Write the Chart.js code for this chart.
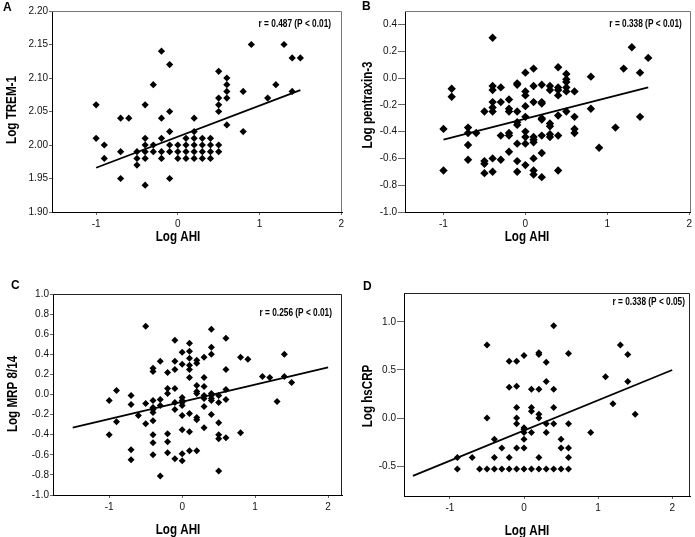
<!DOCTYPE html>
<html>
<head>
<meta charset="utf-8">
<script src="https://cdn.jsdelivr.net/npm/chart.js@4.4.1/dist/chart.umd.min.js"></script>
<style>
  html, body { margin: 0; padding: 0; background: #fff; }
  #figure { position: relative; width: 695px; height: 537px; overflow: hidden; background: #fff; }
  #figure canvas { position: absolute; }
  .letter { position: absolute; font: bold 12px 'Liberation Sans', Arial, sans-serif; line-height: 12px; color: #000; }
</style>
</head>
<body>
<div id="figure">
  <canvas id="chartA" width="347" height="268" style="left:0px;top:0px"></canvas>
  <canvas id="chartB" width="348" height="268" style="left:347px;top:0px"></canvas>
  <canvas id="chartC" width="347" height="275" style="left:0px;top:268px"></canvas>
  <canvas id="chartD" width="348" height="275" style="left:347px;top:268px"></canvas>
  <div class="letter" style="left:3px;top:1px">A</div>
  <div class="letter" style="left:362px;top:0px">B</div>
  <div class="letter" style="left:11px;top:279px">C</div>
  <div class="letter" style="left:363px;top:280px">D</div>
</div>
<script>
// --- Data (x = Log AHI) ---
const ahiTicks = [-1, 0, 1, 2];

// A: Log TREM-1
const tremTicks = [1.90, 1.95, 2.00, 2.05, 2.10, 2.15, 2.20];
const tremPoints = [
  [-1.0, 2.06], [-1.0, 2.01], [-0.9, 2.00], [-0.9, 1.98], [-0.7, 2.04], [-0.7, 1.99], [-0.7, 1.95], [-0.6, 2.04],
  [-0.5, 1.99], [-0.5, 1.98], [-0.5, 1.97],
  [-0.4, 2.06], [-0.4, 2.01], [-0.4, 2.00], [-0.4, 1.99], [-0.4, 1.98], [-0.4, 1.94],
  [-0.3, 2.09], [-0.3, 2.00], [-0.3, 1.99],
  [-0.2, 2.14], [-0.2, 2.04], [-0.2, 2.01], [-0.2, 1.99], [-0.2, 1.98],
  [-0.1, 2.12], [-0.1, 2.05], [-0.1, 2.02], [-0.1, 2.00], [-0.1, 1.99], [-0.1, 1.95],
  [0.0, 2.00], [0.0, 1.99], [0.0, 1.98],
  [0.1, 2.01], [0.1, 2.00], [0.1, 1.99], [0.1, 1.98],
  [0.2, 2.04], [0.2, 2.02], [0.2, 2.01], [0.2, 2.00], [0.2, 1.99], [0.2, 1.98],
  [0.3, 2.01], [0.3, 2.00], [0.3, 1.99], [0.3, 1.98],
  [0.4, 2.01], [0.4, 2.00], [0.4, 1.99], [0.4, 1.98],
  [0.5, 2.11], [0.5, 2.07], [0.5, 2.06], [0.5, 2.05], [0.5, 2.00], [0.5, 1.99],
  [0.6, 2.10], [0.6, 2.09], [0.6, 2.08], [0.6, 2.07], [0.6, 2.03],
  [0.8, 2.08], [0.8, 2.02], [0.9, 2.15], [1.1, 2.07], [1.2, 2.09], [1.3, 2.15],
  [1.4, 2.13], [1.4, 2.08], [1.5, 2.13]
];
const tremFit = [[-1.0, 1.966], [1.5, 2.082]];

// B: Log pentraxin-3
const ptxTicks = [-1.0, -0.8, -0.6, -0.4, -0.2, 0.0, 0.2, 0.4];
const ptxPoints = [
  [-1.0, -0.38], [-1.0, -0.69], [-0.9, -0.08], [-0.9, -0.14],
  [-0.7, -0.37], [-0.7, -0.41], [-0.7, -0.50], [-0.7, -0.61], [-0.6, -0.41],
  [-0.5, -0.25], [-0.5, -0.62], [-0.5, -0.64], [-0.5, -0.71],
  [-0.4, 0.30], [-0.4, -0.06], [-0.4, -0.09], [-0.4, -0.18], [-0.4, -0.22], [-0.4, -0.25], [-0.4, -0.60], [-0.4, -0.70],
  [-0.3, -0.07], [-0.3, -0.18], [-0.3, -0.43], [-0.3, -0.61],
  [-0.2, -0.16], [-0.2, -0.23], [-0.2, -0.25], [-0.2, -0.41], [-0.2, -0.43], [-0.2, -0.55],
  [-0.1, -0.04], [-0.1, -0.05], [-0.1, -0.25], [-0.1, -0.33], [-0.1, -0.35], [-0.1, -0.49], [-0.1, -0.62], [-0.1, -0.70],
  [0.0, 0.04], [0.0, -0.10], [0.0, -0.13], [0.0, -0.21], [0.0, -0.29], [0.0, -0.40], [0.0, -0.44], [0.0, -0.49], [0.0, -0.65],
  [0.1, 0.07], [0.1, -0.06], [0.1, -0.18], [0.1, -0.44], [0.1, -0.46], [0.1, -0.48], [0.1, -0.60], [0.1, -0.69], [0.1, -0.72],
  [0.2, -0.05], [0.2, -0.18], [0.2, -0.19], [0.2, -0.30], [0.2, -0.31], [0.2, -0.43], [0.2, -0.56], [0.2, -0.74],
  [0.3, -0.06], [0.3, -0.09], [0.3, -0.34], [0.3, -0.36], [0.3, -0.42], [0.3, -0.44],
  [0.4, 0.08], [0.4, -0.07], [0.4, -0.09], [0.4, -0.13], [0.4, -0.28], [0.4, -0.43], [0.4, -0.69],
  [0.5, 0.03], [0.5, -0.01], [0.5, -0.03], [0.5, -0.07], [0.5, -0.10], [0.5, -0.25],
  [0.6, -0.10], [0.6, -0.29], [0.6, -0.38], [0.6, -0.41],
  [0.8, 0.01], [0.8, -0.23], [0.9, -0.52], [1.1, -0.37], [1.2, 0.07], [1.3, 0.23],
  [1.4, 0.04], [1.4, -0.29], [1.5, 0.15]
];
const ptxFit = [[-1.0, -0.46], [1.5, -0.07]];

// C: Log MRP 8/14
const mrpTicks = [-1.0, -0.8, -0.6, -0.4, -0.2, 0.0, 0.2, 0.4, 0.6, 0.8, 1.0];
const mrpPoints = [
  [-1.0, -0.06], [-1.0, -0.40], [-0.9, 0.04], [-0.9, -0.27],
  [-0.7, -0.01], [-0.7, -0.10], [-0.7, -0.55], [-0.7, -0.65], [-0.6, -0.21],
  [-0.5, 0.68], [-0.5, -0.09], [-0.5, -0.29],
  [-0.4, 0.26], [-0.4, 0.23], [-0.4, -0.06], [-0.4, -0.13], [-0.4, -0.15], [-0.4, -0.18], [-0.4, -0.26], [-0.4, -0.40], [-0.4, -0.48], [-0.4, -0.60],
  [-0.3, 0.33], [-0.3, -0.05], [-0.3, -0.11], [-0.3, -0.81],
  [-0.2, 0.22], [-0.2, 0.06], [-0.2, 0.01], [-0.2, -0.39], [-0.2, -0.47], [-0.2, -0.58],
  [-0.1, 0.54], [-0.1, 0.33], [-0.1, 0.25], [-0.1, 0.06], [-0.1, -0.08], [-0.1, -0.15], [-0.1, -0.64],
  [0.0, 0.42], [0.0, 0.30], [0.0, -0.03], [0.0, -0.06], [0.0, -0.08], [0.0, -0.11], [0.0, -0.21], [0.0, -0.35], [0.0, -0.59], [0.0, -0.66],
  [0.1, 0.51], [0.1, 0.43], [0.1, 0.36], [0.1, 0.29], [0.1, 0.25], [0.1, 0.17], [0.1, -0.19], [0.1, -0.37], [0.1, -0.56],
  [0.2, 0.34], [0.2, 0.31], [0.2, 0.09], [0.2, 0.03], [0.2, 0.01], [0.2, -0.23], [0.2, -0.25], [0.2, -0.56],
  [0.3, 0.37], [0.3, 0.17], [0.3, 0.08], [0.3, -0.01], [0.3, -0.04], [0.3, -0.12], [0.3, -0.33],
  [0.4, 0.65], [0.4, 0.47], [0.4, 0.40], [0.4, 0.01], [0.4, -0.01], [0.4, -0.04], [0.4, -0.06], [0.4, -0.20],
  [0.5, -0.01], [0.5, -0.08], [0.5, -0.28], [0.5, -0.40], [0.5, -0.44], [0.5, -0.76],
  [0.6, 0.56], [0.6, 0.25], [0.6, 0.05], [0.6, -0.05], [0.6, -0.43],
  [0.8, 0.37], [0.8, -0.38], [0.9, 0.35], [1.1, 0.18], [1.2, 0.17], [1.3, -0.07],
  [1.4, 0.40], [1.4, 0.18], [1.5, 0.12]
];
const mrpFit = [[-1.5, -0.33], [2.0, 0.27]];

// D: Log hsCRP
const crpTicks = [-0.5, 0.0, 0.5, 1.0];
const crpPoints = [
  [-0.9, -0.41], [-0.9, -0.53], [-0.7, -0.41], [-0.6, -0.53],
  [-0.5, 0.76], [-0.5, 0.00], [-0.5, -0.53],
  [-0.4, -0.22], [-0.4, -0.41], [-0.4, -0.53],
  [-0.3, -0.31], [-0.3, -0.53],
  [-0.2, 0.59], [-0.2, 0.32], [-0.2, -0.41], [-0.2, -0.53],
  [-0.1, 0.59], [-0.1, 0.33], [-0.1, 0.11], [-0.1, 0.00], [-0.1, -0.06], [-0.1, -0.31], [-0.1, -0.53],
  [0.0, 0.65], [0.0, -0.10], [0.0, -0.12], [0.0, -0.15], [0.0, -0.22], [0.0, -0.31], [0.0, -0.53],
  [0.1, 0.30], [0.1, 0.11], [0.1, 0.07], [0.1, -0.15], [0.1, -0.53],
  [0.2, 0.68], [0.2, 0.66], [0.2, 0.30], [0.2, 0.04], [0.2, 0.00], [0.2, -0.41], [0.2, -0.53],
  [0.3, 0.58], [0.3, 0.38], [0.3, -0.06], [0.3, -0.15], [0.3, -0.53],
  [0.4, 0.96], [0.4, 0.30], [0.4, 0.11], [0.4, -0.06], [0.4, -0.53],
  [0.5, -0.22], [0.5, -0.31], [0.5, -0.53],
  [0.6, 0.67], [0.6, -0.06], [0.6, -0.31], [0.6, -0.41], [0.6, -0.53],
  [0.9, -0.15], [1.1, 0.43], [1.2, 0.15], [1.3, 0.76], [1.4, 0.66], [1.4, 0.38], [1.5, 0.04]
];
const crpFit = [[-1.5, -0.60], [2.0, 0.50]];

const FONT = "'Liberation Sans', Arial, sans-serif";
const SQUEEZE = 0.83; // the original uses a narrow face

// squeezed text, optionally rotated
function narrowText(ctx, text, x, y, font, angle, align) {
  ctx.save();
  ctx.translate(x, y);
  if (angle) ctx.rotate(angle);
  ctx.scale(SQUEEZE, 1);
  ctx.font = font;
  ctx.fillStyle = '#000';
  ctx.textAlign = align || 'center';
  ctx.textBaseline = 'middle';
  ctx.fillText(text, 0, 0);
  ctx.restore();
}

// frame (top + right), axis titles and the r / P note of each plot
const panelDecor = {
  id: 'panelDecor',
  beforeDatasetsDraw(chart, args, o) {
    const { ctx, chartArea: a } = chart;
    ctx.save();
    ctx.strokeStyle = o.frameColor;
    ctx.lineWidth = 1;
    ctx.beginPath();
    ctx.moveTo(a.left, Math.round(a.top) + 0.5);
    ctx.lineTo(Math.round(a.right) - 0.5, Math.round(a.top) + 0.5);
    ctx.lineTo(Math.round(a.right) - 0.5, a.bottom);
    ctx.stroke();
    ctx.restore();
  },
  afterDraw(chart, args, o) {
    const { ctx, chartArea: a } = chart;
    narrowText(ctx, o.note, a.right - o.noteInset, a.top + o.noteY, 'bold 10px ' + FONT, 0, 'right');
    narrowText(ctx, 'Log AHI', o.xTitleX, a.bottom + o.xTitleDy, 'bold 14px ' + FONT, 0);
    narrowText(ctx, o.yTitle, a.left - o.yTitleDx, o.yTitleY, 'bold 14px ' + FONT, -Math.PI / 2);
  }
};

function toXY(list) {
  return list.map(p => ({ x: p[0], y: p[1] }));
}

function makePanel(id, p) {
  const ctx = document.getElementById(id).getContext('2d');
  return new Chart(ctx, {
    type: 'scatter',
    data: {
      datasets: [
        {
          data: toXY(p.points),
          pointStyle: 'rectRot',
          pointRadius: p.dot,
          backgroundColor: '#000',
          borderWidth: 0
        },
        {
          type: 'line',
          data: toXY(p.fit),
          showLine: true,
          borderColor: '#000',
          borderWidth: 1.8,
          pointRadius: 0,
          fill: false
        }
      ]
    },
    options: {
      responsive: false,
      animation: false,
      devicePixelRatio: 1,
      events: [],
      layout: { padding: p.pad },
      plugins: {
        legend: { display: false },
        tooltip: { enabled: false },
        panelDecor: p.decor
      },
      scales: {
        x: {
          type: 'linear',
          min: p.xMin,
          max: p.xMax,
          afterBuildTicks: axis => { axis.ticks = ahiTicks.map(v => ({ value: v })); },
          afterFit: axis => { axis.height = p.xHeight; },
          border: { color: '#000', width: 1 },
          grid: { drawOnChartArea: false, drawTicks: true, tickLength: 3, tickColor: '#666' },
          ticks: {
            padding: 3,
            color: '#111',
            font: { family: FONT, size: 10 },
            callback: v => String(v)
          }
        },
        y: {
          type: 'linear',
          min: p.yMin,
          max: p.yMax,
          afterBuildTicks: axis => { axis.ticks = p.yTicks.map(v => ({ value: v })); },
          afterFit: axis => { axis.width = p.yWidth; },
          border: { color: '#000', width: 1 },
          grid: { drawOnChartArea: false, drawTicks: true, tickLength: p.yTickLen, tickColor: '#666' },
          ticks: {
            padding: 1,
            color: '#111',
            font: { family: FONT, size: 10 },
            callback: v => Number(v).toFixed(p.decimals)
          }
        }
      }
    },
    plugins: [panelDecor]
  });
}

makePanel('chartA', {
  points: tremPoints, fit: tremFit, yTicks: tremTicks, decimals: 2,
  xMin: -1.54, xMax: 2.01, yMin: 1.90, yMax: 2.20,
  pad: { left: 4, right: 4, top: 11, bottom: 23 }, yWidth: 48, xHeight: 33, yTickLen: 3, dot: 3.6,
  decor: { frameColor: '#777', note: 'r = 0.487 (P < 0.01)', noteInset: 11, noteY: 13,
           yTitle: 'Log TREM-1', xTitleX: 178, xTitleDy: 25, yTitleDx: 40, yTitleY: 110 }
});

makePanel('chartB', {
  points: ptxPoints, fit: ptxFit, yTicks: ptxTicks, decimals: 1,
  xMin: -1.47, xMax: 2.02, yMin: -1.0, yMax: 0.5,
  pad: { left: 13, right: 1, top: 11, bottom: 23 }, yWidth: 45, xHeight: 33, yTickLen: 7, dot: 4.2,
  decor: { frameColor: '#777', note: 'r = 0.338 (P < 0.01)', noteInset: 9, noteY: 13,
           yTitle: 'Log pentraxin-3', xTitleX: 180, xTitleDy: 25, yTitleDx: 37, yTitleY: 105 }
});

makePanel('chartC', {
  points: mrpPoints, fit: mrpFit, yTicks: mrpTicks, decimals: 1,
  xMin: -1.77, xMax: 2.19, yMin: -1.0, yMax: 1.0,
  pad: { left: 5, right: 5, top: 26, bottom: 5 }, yWidth: 48, xHeight: 43, yTickLen: 3, dot: 3.5,
  decor: { frameColor: '#222', note: 'r = 0.256 (P < 0.01)', noteInset: 10, noteY: 19,
           yTitle: 'Log MRP 8/14', xTitleX: 178, xTitleDy: 35, yTitleDx: 40, yTitleY: 126 }
});

makePanel('chartD', {
  points: crpPoints, fit: crpFit, yTicks: crpTicks, decimals: 1,
  xMin: -1.62, xMax: 2.24, yMin: -0.81, yMax: 1.30,
  pad: { left: 13, right: 5, top: 25, bottom: 4 }, yWidth: 44, xHeight: 43, yTickLen: 7, dot: 3.5,
  decor: { frameColor: '#222', note: 'r = 0.338 (P < 0.05)', noteInset: 5, noteY: 9,
           yTitle: 'Log hsCRP', xTitleX: 180, xTitleDy: 35, yTitleDx: 36, yTitleY: 128 }
});
</script>
</body>
</html>
